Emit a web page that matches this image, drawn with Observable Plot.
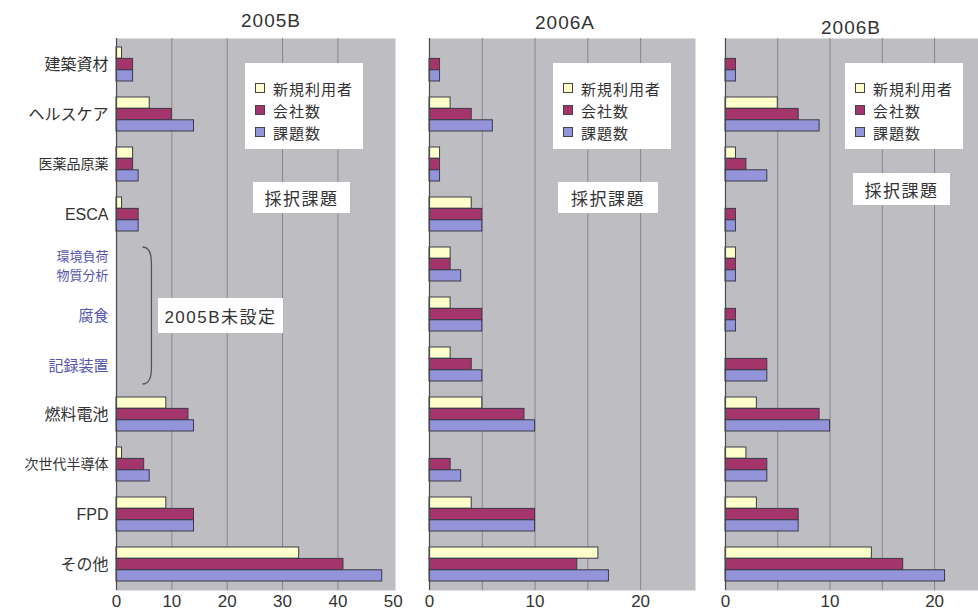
<!DOCTYPE html>
<html>
<head>
<meta charset="utf-8">
<script src="https://cdn.jsdelivr.net/npm/d3@7"></script>
<script src="https://cdn.jsdelivr.net/npm/@observablehq/plot@0.6"></script>
<style>
  body { margin: 0; background: #fff; font-family: "Liberation Sans", "Noto Sans CJK JP", sans-serif; }
  #chart { position: relative; width: 978px; height: 614px; overflow: hidden; }
  .panel { position: absolute; top: 0; }
  .title { position: absolute; font-size: 19px; letter-spacing: 1px; color: #333; transform: translate(-50%, -50%); white-space: nowrap; }
  .legend { position: absolute; background: #fff; box-sizing: border-box; padding: 14px 0 0 10px; font-size: 15px; letter-spacing: 1px; color: #333; }
  .legend .row { display: flex; align-items: center; height: 22px; }
  .legend .sw { width: 8px; height: 8px; border: 1px solid #444; margin-right: 8px; }
  .note { position: absolute; background: #fff; font-size: 17px; letter-spacing: 1.5px; color: #333; display: flex; align-items: center; justify-content: center; white-space: nowrap; }
</style>
</head>
<body>
<div id="chart"></div>
<script>
// Research themes, top to bottom
const categories = ["建築資材", "ヘルスケア", "医薬品原薬", "ESCA", "環境負荷物質分析", "腐食", "記録装置", "燃料電池", "次世代半導体", "FPD", "その他"];
const categoryLabels = ["建築資材", "ヘルスケア", "医薬品原薬", "ESCA", "環境負荷\n物質分析", "腐食", "記録装置", "燃料電池", "次世代半導体", "FPD", "その他"];
// themes that did not exist yet in 2005B (labels drawn in blue)
const newThemes = ["環境負荷物質分析", "腐食", "記録装置"];
const smallLabelThemes = ["医薬品原薬", "環境負荷物質分析", "次世代半導体"];

const seriesNames = ["新規利用者", "会社数", "課題数"];
const seriesColors = ["#ffffcc", "#a3356b", "#9494da"];

// 2005B (null = theme not set up)
const newUsers2005B  = [1, 6, 3, 1, null, null, null, 9, 1, 9, 33];
const companies2005B = [3, 10, 3, 4, null, null, null, 13, 5, 14, 41];
const projects2005B  = [3, 14, 4, 4, null, null, null, 14, 6, 14, 48];

// 2006A
const newUsers2006A  = [0, 2, 1, 4, 2, 2, 2, 5, 0, 4, 16];
const companies2006A = [1, 4, 1, 5, 2, 5, 4, 9, 2, 10, 14];
const projects2006A  = [1, 6, 1, 5, 3, 5, 5, 10, 3, 10, 17];

// 2006B
const newUsers2006B  = [0, 5, 1, 0, 1, 0, 0, 3, 2, 3, 14];
const companies2006B = [1, 7, 2, 1, 1, 1, 4, 9, 4, 7, 17];
const projects2006B  = [1, 9, 4, 1, 1, 1, 4, 10, 4, 7, 21];

const ticks2005B = [0, 10, 20, 30, 40, 50];
const ticks2006 = [0, 10, 20];

const FONT = '"Liberation Sans", "Noto Sans CJK JP", sans-serif';
const HEIGHT = 614, MARGIN_TOP = 38, MARGIN_BOTTOM = 24;
const bandwidth = (HEIGHT - MARGIN_TOP - MARGIN_BOTTOM) / categories.length;
const groupPad = 8;
const barH = (bandwidth - 2 * groupPad) / 3;

function toRows(arrays) {
  const rows = [];
  categories.forEach((c, i) => {
    arrays.forEach((arr, s) => {
      const v = arr[i];
      if (v != null && v > 0) rows.push({category: c, series: seriesNames[s], value: v});
    });
  });
  return rows;
}

// bracket spanning the themes not yet offered in 2005B
function bracket(index, scales) {
  const x = scales.x, y = scales.y;
  const bw = y.bandwidth ? y.bandwidth() : bandwidth;
  const y0 = y("環境負荷物質分析") + 8;
  const y1 = y("記録装置") + bw - 5;
  const xa = x(4.8), xb = x(6.4);
  const p = d3.path();
  p.moveTo(xa, y0);
  p.quadraticCurveTo(xb, y0, xb, y0 + 16);
  p.lineTo(xb, y1 - 16);
  p.quadraticCurveTo(xb, y1, xa, y1);
  return d3.create("svg:path")
    .attr("d", p.toString())
    .attr("fill", "none")
    .attr("stroke", "#555")
    .attr("stroke-width", 1.3)
    .node();
}

const panels = [
  {title: "2005B", left: 0, width: 395, marginLeft: 116, marginRight: 0, domain: [0, 50.4], ticks: ticks2005B, grid: [10, 20, 30, 40],
   data: [newUsers2005B, companies2005B, projects2005B], labels: true},
  {title: "2006A", left: 400, width: 296, marginLeft: 29, marginRight: 1, domain: [0, 25.2], ticks: ticks2006, grid: [5, 10, 15, 20],
   data: [newUsers2006A, companies2006A, projects2006A], labels: false},
  {title: "2006B", left: 705, width: 273, marginLeft: 20, marginRight: 0, domain: [0, 24.2], ticks: ticks2006, grid: [5, 10, 15, 20],
   data: [newUsers2006B, companies2006B, projects2006B], labels: false}
];

const chart = document.getElementById("chart");

panels.forEach(p => {
  const rows = toRows(p.data);
  const marks = [
    Plot.frame({fill: "#bebec2", stroke: null}),
    Plot.ruleX(p.grid, {stroke: "#85858c", strokeWidth: 1}),
    ...seriesNames.map((s, i) => Plot.barX(rows.filter(r => r.series === s), {
      x: "value",
      y: "category",
      fill: seriesColors[i],
      stroke: "#3a3a48",
      strokeWidth: 1,
      insetTop: groupPad + barH * i,
      insetBottom: bandwidth - groupPad - barH * (i + 1)
    })),
    Plot.ruleX([0], {stroke: "#4a4a4a", strokeWidth: 1.2})
  ];
  if (p.labels) {
    const labelOf = c => categoryLabels[categories.indexOf(c)];
    marks.push(
      Plot.text(categories.filter(c => !newThemes.includes(c) && !smallLabelThemes.includes(c)), {
        x: 0, y: d => d, text: labelOf, dx: -8, textAnchor: "end", fontSize: 16, fill: "#333"
      }),
      Plot.text(categories.filter(c => !newThemes.includes(c) && smallLabelThemes.includes(c)), {
        x: 0, y: d => d, text: labelOf, dx: -8, textAnchor: "end", fontSize: 14, fill: "#333"
      }),
      Plot.text(categories.filter(c => newThemes.includes(c)), {
        x: 0, y: d => d, text: labelOf, dx: -8, textAnchor: "end", lineHeight: 1.45,
        fontSize: c => smallLabelThemes.includes(c) ? 13 : 15, fill: "#5656ae"
      }),
      bracket
    );
  }
  const svg = Plot.plot({
    width: p.width,
    height: HEIGHT,
    marginTop: MARGIN_TOP,
    marginBottom: MARGIN_BOTTOM,
    marginLeft: p.marginLeft,
    marginRight: p.marginRight,
    style: {fontFamily: FONT, fontSize: "17px", color: "#333", background: "transparent", overflow: "visible"},
    x: {domain: p.domain, ticks: p.ticks, tickSize: 0, tickPadding: 4, tickFormat: d => String(d), label: null},
    y: {domain: categories, axis: null, padding: 0},
    marks
  });
  svg.classList.add("panel");
  svg.style.left = p.left + "px";
  chart.appendChild(svg);
});

// panel titles
[["2005B", 271, 21], ["2006A", 565, 23], ["2006B", 851, 28]].forEach(([t, x, y]) => {
  const d = document.createElement("div");
  d.className = "title";
  d.textContent = t;
  d.style.left = x + "px";
  d.style.top = y + "px";
  chart.appendChild(d);
});

// legends
[[245, 63], [553, 63], [845, 63]].forEach(([x, y]) => {
  const box = document.createElement("div");
  box.className = "legend";
  box.style.left = x + "px";
  box.style.top = y + "px";
  box.style.width = "118px";
  box.style.height = "86px";
  seriesNames.forEach((s, i) => {
    const row = document.createElement("div");
    row.className = "row";
    const sw = document.createElement("span");
    sw.className = "sw";
    sw.style.background = seriesColors[i];
    const label = document.createElement("span");
    label.textContent = s;
    row.appendChild(sw);
    row.appendChild(label);
    box.appendChild(row);
  });
  chart.appendChild(box);
});

// annotation boxes
[["採択課題", 253, 182, 97, 31], ["採択課題", 558, 182, 100, 31], ["採択課題", 853, 173, 97, 32], ["2005B未設定", 158, 298, 125, 35]]
  .forEach(([t, x, y, w, h]) => {
    const d = document.createElement("div");
    d.className = "note";
    d.textContent = t;
    Object.assign(d.style, {left: x + "px", top: y + "px", width: w + "px", height: h + "px"});
    chart.appendChild(d);
  });
</script>
</body>
</html>
